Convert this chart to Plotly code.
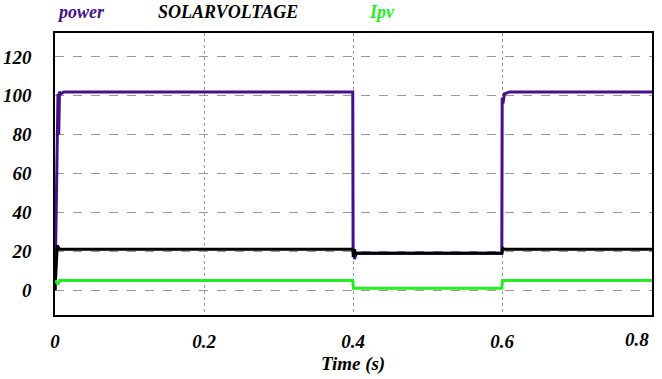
import plotly.graph_objects as go

# ---- data ----
t_power = [0, 0.0035, 0.004, 0.005, 0.006, 0.008, 0.012, 0.3995, 0.4, 0.401, 0.402, 0.404, 0.41, 0.5995, 0.6, 0.601, 0.603, 0.61, 0.801]
power = [0, 78, 101, 80, 102, 101, 102, 102, 17, 21, 16, 19, 19, 19, 99, 96, 101, 102, 102]

t_volt = [0, 0.001, 0.003, 0.006, 0.3995, 0.401, 0.402, 0.403, 0.405, 0.5995, 0.601, 0.603, 0.801]
volt = [0, 8, 23, 21, 21, 17, 21, 18, 19, 19, 21.5, 21, 21]

t_ipv = [0, 0.004, 0.006, 0.3995, 0.4005, 0.5995, 0.6005, 0.801]
ipv = [5, 3, 5, 5, 1, 1, 5, 5]

x_ticks = [0, 0.2, 0.4, 0.6]
x_labels = ["0", "0.2", "0.4", "0.6"]
x_last_tick, x_last_label = 0.8, "0.8"
y_ticks = [0, 20, 40, 60, 80, 100, 120]

series_names = ["power", "SOLARVOLTAGE", "Ipv"]
colors = ["#45108c", "#000000", "#22ee22"]
x_title = "Time (s)"

FONT = "Liberation Serif"

W, H = 662, 379
ML, MR, MT, MB = 55, 10, 33, 64
pw, ph = W - ML - MR, H - MT - MB


def px2paper(px, py):
    return (px - ML) / pw, (H - MB - py) / ph


fig = go.Figure()
fig.add_trace(go.Scatter(x=t_power, y=power, mode="lines", line=dict(color=colors[0], width=3), name=series_names[0]))
fig.add_trace(go.Scatter(x=t_volt, y=volt, mode="lines", line=dict(color=colors[1], width=3), name=series_names[1]))
fig.add_trace(go.Scatter(x=t_ipv, y=ipv, mode="lines", line=dict(color=colors[2], width=3), name=series_names[2]))

txtfont = dict(family=FONT, size=19, weight="bold", style="italic")

# legend-like titles
for name, col, lx in zip(series_names, colors, [55, 156, 367]):
    ax, ay = px2paper(lx, 12)
    fig.add_annotation(x=ax, y=ay, xref="paper", yref="paper", text=name, showarrow=False,
                       xanchor="left", yanchor="middle", font=dict(txtfont, size=18, color=col))

# last x tick label (drawn inside the frame edge like the original)
lx, ly = px2paper(0, 339)
fig.add_annotation(x=x_last_tick, y=ly, xref="x", yref="paper", text=x_last_label, showarrow=False,
                   xanchor="center", yanchor="middle", xshift=-14, font=dict(txtfont, color="black"))

# axis title
tx, ty = px2paper(353, 364)
fig.add_annotation(x=tx, y=ty, xref="paper", yref="paper", text=x_title, showarrow=False,
                   xanchor="center", yanchor="middle", font=dict(txtfont, color="black"))

fig.update_layout(
    width=W, height=H,
    margin=dict(l=ML, r=MR, t=MT, b=MB, autoexpand=False),
    plot_bgcolor="white", paper_bgcolor="white",
    showlegend=False,
    font=dict(family=FONT, size=19, color="black", weight="bold", style="italic"),
)
fig.update_xaxes(
    range=[0, 0.801], tickvals=x_ticks, ticktext=x_labels, automargin=False,
    showgrid=True, gridcolor="#999999", griddash="dot", gridwidth=1,
    showline=True, linecolor="black", linewidth=1.5, mirror=True,
    zeroline=False, ticks="", ticklabelstandoff=8,
)
fig.update_yaxes(
    range=[-12.8, 132.3], tickvals=y_ticks, automargin=False,
    showgrid=True, gridcolor="#999999", griddash="dash", gridwidth=1,
    showline=True, linecolor="black", linewidth=1.5, mirror=True,
    zeroline=False, ticks="", ticklabelstandoff=18,
)

fig.write_html("out.html", config={"displayModeBar": False},
               post_script="document.body.style.margin='0';")
